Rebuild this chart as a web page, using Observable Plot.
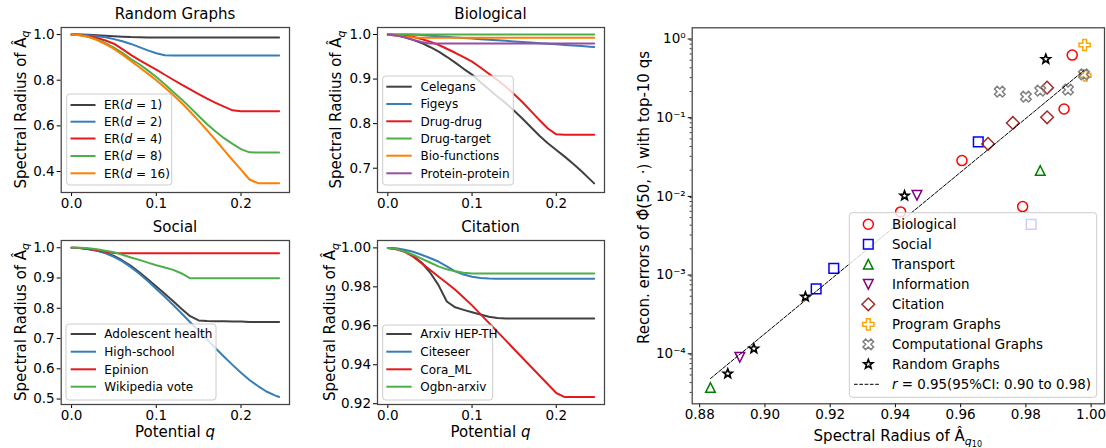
<!DOCTYPE html>
<html><head><meta charset="utf-8">
<script src="https://cdn.jsdelivr.net/npm/d3@7"></script>
<script src="https://cdn.jsdelivr.net/npm/@observablehq/plot@0.6"></script>
<style>
html,body{margin:0;padding:0;background:#fff;}
#root{position:relative;width:1106px;height:448px;overflow:hidden;font-family:"DejaVu Sans",sans-serif;}
#root > svg, #root > figure{position:absolute;margin:0;}
</style></head>
<body><div id="root"></div>
<script>
// ---------------- DATA ----------------
const q = [0,0.01,0.02,0.03,0.04,0.05,0.06,0.07,0.08,0.09,0.10,0.11,0.12,0.13,0.14,0.15,0.16,0.17,0.18,0.19,0.20,0.21,0.22,0.23,0.24,0.245];

// Random Graphs
const randomD = [1,2,4,8,16];
const er1  = [1,1,.999,.997,.995,.993,.991,.989,.988,.987,.987,.987,.987,.987,.987,.987,.987,.987,.987,.987,.987,.987,.987,.987,.987,.987];
const er2  = [1,.999,.997,.993,.988,.980,.971,.959,.945,.931,.918,.909,.908,.908,.908,.908,.908,.908,.908,.908,.908,.908,.908,.908,.908,.908];
const er4  = [1,.998,.993,.985,.974,.960,.936,.911,.888,.867,.846,.824,.802,.781,.760,.739,.719,.701,.684,.668,.664,.664,.664,.664,.664,.664];
const er8  = [1,.997,.990,.978,.962,.943,.920,.893,.870,.843,.814,.782,.748,.716,.680,.643,.607,.575,.546,.521,.498,.484,.483,.483,.483,.483];
const er16 = [1,.997,.989,.976,.958,.937,.912,.885,.857,.829,.800,.768,.735,.700,.662,.622,.580,.538,.494,.450,.408,.365,.349,.349,.349,.349];

// Biological
const bioNames = ["Celegans","Figeys","Drug-drug","Drug-target","Bio-functions","Protein-protein"];
const celegans   = [1,.998,.994,.988,.981,.972,.962,.950,.937,.923,.910,.893,.877,.861,.846,.829,.811,.792,.773,.756,.741,.726,.710,.693,.675,.666];
const figeys     = [1,1,1,1,.9987,.9974,.9961,.9948,.9935,.9922,.9909,.9896,.9883,.987,.9857,.9844,.9831,.9818,.9805,.9792,.9779,.9766,.9753,.974,.9727,.972];
const drugDrug   = [1,.999,.997,.995,.990,.984,.977,.968,.959,.949,.939,.926,.912,.898,.883,.866,.848,.828,.808,.789,.776,.775,.775,.775,.775,.775];
const drugTarget = [1,1,1,1,1,1,1,1,1,1,1,1,1,1,1,1,1,1,1,1,1,1,1,1,1,1];
const bioFunc    = [1,.998,.995,.993,.9925,.9925,.9925,.9925,.9925,.9925,.9925,.9925,.9925,.9925,.9925,.9925,.9925,.9925,.9925,.9925,.9925,.9925,.9925,.9925,.9925,.9925];
const protein    = [1,.998,.994,.988,.983,.980,.980,.980,.980,.980,.980,.980,.980,.980,.980,.980,.980,.980,.980,.980,.980,.980,.980,.980,.980,.980];

// Social
const socNames = ["Adolescent health","High-school","Epinion","Wikipedia vote"];
const adolescent = [1,.999,.996,.991,.984,.973,.958,.940,.919,.896,.872,.848,.823,.798,.774,.760,.758,.757,.757,.756,.756,.755,.755,.755,.755,.755];
const highSchool = [1,.999,.995,.990,.982,.970,.955,.936,.914,.890,.864,.838,.811,.783,.754,.726,.697,.668,.640,.613,.587,.563,.543,.525,.512,.507];
const epinion    = [1,.999,.996,.992,.987,.983,.982,.982,.982,.982,.982,.982,.982,.982,.982,.982,.982,.982,.982,.982,.982,.982,.982,.982,.982,.982];
const wikiVote   = [1,1,.998,.995,.990,.985,.977,.968,.960,.951,.942,.935,.927,.915,.899,.899,.899,.899,.899,.899,.899,.899,.899,.899,.899,.899];

// Citation
const citNames = ["Arxiv HEP-TH","Citeseer","Cora_ML","Ogbn-arxiv"];
const arxiv    = [1,.9995,.9982,.996,.9925,.9875,.981,.9725,.9695,.9682,.967,.9658,.9647,.964,.9638,.9638,.9638,.9638,.9638,.9638,.9638,.9638,.9638,.9638,.9638,.9638];
const citeseer = [1,.9998,.999,.998,.9965,.9948,.993,.9905,.988,.9863,.9852,.9846,.9843,.9842,.9842,.9842,.9842,.9842,.9842,.9842,.9842,.9842,.9842,.9842,.9842,.9842];
const coraML   = [1,.9993,.998,.9955,.9922,.9888,.9853,.982,.9785,.9745,.9705,.966,.9615,.957,.9525,.948,.9435,.939,.9345,.93,.9255,.9234,.9234,.9234,.9234,.9234];
const ogbn     = [1,.9995,.998,.9965,.9945,.9925,.9905,.989,.988,.9873,.9869,.9868,.9868,.9868,.9868,.9868,.9868,.9868,.9868,.9868,.9868,.9868,.9868,.9868,.9868,.9868];

// Scatter: spectral radius vs reconstruction error
const catNames = ["Biological","Social","Transport","Information","Citation","Program Graphs","Computational Graphs","Random Graphs"];
const scCat = ["Biological","Biological","Biological","Biological","Biological",
  "Social","Social","Social","Social",
  "Transport","Transport",
  "Information","Information",
  "Citation","Citation","Citation","Citation",
  "Program Graphs","Program Graphs",
  "Computational Graphs","Computational Graphs","Computational Graphs","Computational Graphs","Computational Graphs",
  "Random Graphs","Random Graphs","Random Graphs","Random Graphs","Random Graphs"];
const scX = [0.9942,0.9917,0.9604,0.979,0.9416,
  0.9654,0.9816,0.9211,0.9157,
  0.9844,0.8833,
  0.9466,0.8923,
  0.9865,0.9865,0.976,0.9684,
  0.998,0.9982,
  0.972,0.980,0.9844,0.9929,0.9978,
  0.9861,0.9428,0.9124,0.8966,0.8886];
const scY = [0.58,0.12,0.0265,0.0069,0.0059,
  0.0458,0.0041,0.00113,0.00062,
  0.0198,3.46e-5,
  0.0096,8.4e-5,
  0.224,0.094,0.0797,0.0432,
  0.78,0.32,
  0.199,0.172,0.205,0.211,0.33,
  0.516,0.00947,4.92e-4,1.08e-4,5.2e-5];
const fitX = [0.8833, 0.9977];
const fitY = [4.5e-5, 0.367];
const fitLabel = "0.95(95%CI: 0.90 to 0.98)";

// ---------------- STYLE ----------------
const lineColors = ["#404040","#377eb8","#e41a1c","#4daf4a","#ff7f00","#984ea3"];
const catColors = ["red","blue","green","purple","brown","orange","gray","black"];
const FONT = "DejaVu Sans";
const root = document.getElementById("root");

// custom matplotlib-like marker symbols
const R = s => Math.sqrt(s/Math.PI);
const symCircle = {draw(c,s){const r=R(s);c.moveTo(r,0);c.arc(0,0,r,0,2*Math.PI);}};
const symSquare = {draw(c,s){const r=R(s);c.rect(-r,-r,2*r,2*r);}};
const symTriUp = {draw(c,s){const r=R(s);c.moveTo(0,-r);c.lineTo(r,r);c.lineTo(-r,r);c.closePath();}};
const symTriDown = {draw(c,s){const r=R(s);c.moveTo(0,r);c.lineTo(r,-r);c.lineTo(-r,-r);c.closePath();}};
const symDiamond = {draw(c,s){const r=R(s);c.moveTo(0,-r);c.lineTo(r,0);c.lineTo(0,r);c.lineTo(-r,0);c.closePath();}};
function plusPts(r){const w=r/3;return [[-w,-r],[w,-r],[w,-w],[r,-w],[r,w],[w,w],[w,r],[-w,r],[-w,w],[-r,w],[-r,-w],[-w,-w]];}
const symPlus = {draw(c,s){const p=plusPts(R(s));p.forEach((v,i)=>i?c.lineTo(v[0],v[1]):c.moveTo(v[0],v[1]));c.closePath();}};
const symX = {draw(c,s){const p=plusPts(R(s));const k=Math.SQRT1_2;p.forEach((v,i)=>{const x=(v[0]-v[1])*k,y=(v[0]+v[1])*k;i?c.lineTo(x,y):c.moveTo(x,y);});c.closePath();}};
const symStar = {draw(c,s){const r=R(s),ri=r*0.42;for(let i=0;i<10;i++){const a=-Math.PI/2+i*Math.PI/5,rr=i%2?ri:r;const x=rr*Math.cos(a),y=rr*Math.sin(a);i?c.lineTo(x,y):c.moveTo(x,y);}c.closePath();}};
const catSymbols = [symCircle,symSquare,symTriUp,symTriDown,symDiamond,symPlus,symX,symStar];
const catR = [5,4.8,4.8,4.8,6.3,5.6,5.6,4.7];
const catSW = [1.5,1.5,1.5,1.5,1.5,1.5,1.5,1.7];

const xDomainLines = [-0.01225, 0.25725];

function linePanel({left, top, ml, mr, mt, mb, w, h, ydomain, yticks, yfmt, series}) {
  const marks = [
    Plot.axisX({ticks:[0,0.1,0.2], tickFormat:d3.format(".1f"), tickSize:4, tickPadding:2, label:null}),
    Plot.axisY({ticks:yticks, tickFormat:d3.format(yfmt), tickSize:4, tickPadding:2.5, label:null}),
  ];
  series.forEach((s,i) => {
    const data = q.map((qq,j)=>({q:qq, v:s[j]}));
    marks.push(Plot.line(data, {x:"q", y:"v", stroke:lineColors[i], strokeWidth:2}));
  });
  marks.push(Plot.frame({stroke:"#444", strokeWidth:1.25}));
  const p = Plot.plot({
    width:w, height:h, marginLeft:ml, marginRight:mr, marginTop:mt, marginBottom:mb,
    x:{domain:xDomainLines, label:null}, y:{domain:ydomain, label:null},
    style:{fontFamily:FONT, fontSize:"13.5px", color:"#000", background:"transparent", overflow:"visible"},
    marks
  });
  p.style.left = left+"px"; p.style.top = top+"px";
  root.appendChild(p);
}

linePanel({left:0, top:0, w:300, h:210, ml:60.7, mr:11, mt:27, mb:18,
  ydomain:[0.308,1.031], yticks:[0.4,0.6,0.8,1.0], yfmt:".1f", series:[er1,er2,er4,er8,er16]});
linePanel({left:316, top:0, w:300, h:210, ml:61, mr:12, mt:27, mb:18,
  ydomain:[0.6455,1.0157], yticks:[0.7,0.8,0.9,1.0], yfmt:".1f", series:[celegans,figeys,drugDrug,drugTarget,bioFunc,protein]});
linePanel({left:0, top:213, w:300, h:210, ml:60.7, mr:11, mt:27, mb:19,
  ydomain:[0.482,1.024], yticks:[0.5,0.6,0.7,0.8,0.9,1.0], yfmt:".1f", series:[adolescent,highSchool,epinion,wikiVote]});
linePanel({left:316, top:213, w:300, h:210, ml:61, mr:12, mt:27, mb:19,
  ydomain:[0.9196,1.0038], yticks:[0.92,0.94,0.96,0.98,1.00], yfmt:".2f", series:[arxiv,citeseer,coraML,ogbn]});

// scatter
const sup = {"0":"⁰","1":"¹","2":"²","3":"³","4":"⁴","5":"⁵","6":"⁶","-":"⁻"};
const fmtPow = d => "10" + String(Math.round(Math.log10(d))).split("").map(c=>sup[c]).join("");
const minorTicks = [];
for (let k=-5;k<=0;k++) for (let m=2;m<=9;m++) { const v=m*Math.pow(10,k); if (v>2.15e-5 && v<1.29) minorTicks.push(v); }
const scData = scX.map((x,i)=>({x, y:scY[i], cat:scCat[i]}));
const scMarks = [
  Plot.axisY({ticks:minorTicks, tickSize:2, tickFormat:()=>"", label:null, strokeWidth:0.8}),
  Plot.axisY({ticks:[1e-4,1e-3,1e-2,1e-1,1], tickSize:4, tickPadding:2.5, tickFormat:fmtPow, dy:2.5, label:null}),
  Plot.axisX({ticks:[0.88,0.90,0.92,0.94,0.96,0.98,1.00], tickFormat:d3.format(".2f"), tickSize:4, tickPadding:2, label:null}),
];
catNames.forEach((c,i) => {
  scMarks.push(Plot.dot(scData.filter(d=>d.cat===c), {x:"x", y:"y", symbol:catSymbols[i], r:catR[i], stroke:catColors[i], fill:"none", strokeWidth:catSW[i]}));
});
scMarks.push(Plot.line(fitX.map((x,i)=>({x, y:fitY[i]})), {x:"x", y:"y", stroke:"black", strokeWidth:1, strokeDasharray:"3.7,1.6"}));
scMarks.push(Plot.frame({stroke:"#444", strokeWidth:1.25}));
const sc = Plot.plot({
  width:486, height:448, marginLeft:71.7, marginRight:2, marginTop:27.3, marginBottom:44.7,
  x:{domain:[0.8777,1.0041], label:null}, y:{type:"log", domain:[2.15e-5,1.29], label:null},
  style:{fontFamily:FONT, fontSize:"13.5px", color:"#000", background:"transparent", overflow:"visible"},
  marks: scMarks
});
sc.style.left = "620px"; sc.style.top = "0px";
root.appendChild(sc);

// ---------------- OVERLAY: titles, labels, legends ----------------
const ov = d3.select(root).append("svg").attr("width",1106).attr("height",448)
  .style("left","0px").style("top","0px").style("font-family",FONT).style("overflow","visible");

function txt(x, y, parts, {size=15, anchor="middle", rotate=0, dy=null}={}) {
  const t = ov.append("text").attr("transform",`translate(${x},${y}) rotate(${rotate})`)
    .attr("text-anchor",anchor).attr("font-size",size).attr("fill","#000");
  if (dy) t.attr("dy", dy);
  parts.forEach(p => {
    const s = t.append("tspan").text(p.t);
    if (p.italic) s.attr("font-style","italic");
    if (p.dy != null) s.attr("dy", p.dy);
    if (p.size) s.attr("font-size", p.size);
  });
  return t;
}

// titles
txt(175, 18.7, [{t:"Random Graphs"}]);
txt(490.5, 18.7, [{t:"Biological"}]);
txt(175, 232, [{t:"Social"}]);
txt(490.5, 232, [{t:"Citation"}]);

// y labels of line panels
const yl = () => [{t:"Spectral Radius of Â"},{t:"q", italic:true, dy:3.5, size:11}];
txt(25.5, 109.5, yl(), {rotate:-90});
txt(341, 109.5, yl(), {rotate:-90});
txt(25.5, 322, yl(), {rotate:-90});
txt(335, 322, yl(), {rotate:-90});

// x labels
txt(175, 437, [{t:"Potential "},{t:"q", italic:true}]);
txt(490.5, 437, [{t:"Potential "},{t:"q", italic:true}]);

// scatter labels
txt(897.8, 441, [{t:"Spectral Radius of Â"},{t:"q", italic:true, dy:3.5, size:11},{t:"10", dy:2.5, size:8}]);
txt(648.7, 197.5, [{t:"Recon. errors of Φ̂(50, ·) with top-10 qs"}], {rotate:-90});

// legends
function box(x,y,w,h){
  ov.append("rect").attr("x",x).attr("y",y).attr("width",w).attr("height",h).attr("rx",3)
    .attr("fill","white").attr("fill-opacity",0.8).attr("stroke","#cccccc").attr("stroke-width",1);
}
function lineLegend(bx,by,bw,bh,x1,x2,tx,ys,labels){
  box(bx,by,bw,bh);
  labels.forEach((parts,i)=>{
    ov.append("line").attr("x1",x1).attr("x2",x2).attr("y1",ys[i]).attr("y2",ys[i])
      .attr("stroke",lineColors[i]).attr("stroke-width",2);
    txt(tx, ys[i], parts, {size:12, anchor:"start", dy:"0.35em"});
  });
}
lineLegend(66.7,94,105,91,70.5,95.5,104,[105,121.7,138.5,156,173.3],
  randomD.map(d=>[{t:"ER("},{t:"d",italic:true},{t:` = ${d})`}]));
lineLegend(382.7,76,130.6,109,386.3,411.7,420.5,[86.7,104,121.3,138.5,155.7,173.3],
  bioNames.map(n=>[{t:n}]));
lineLegend(66,324,150,76,70.7,96,104.3,[334,351.7,369.3,386.7],
  socNames.map(n=>[{t:n}]));
lineLegend(382.7,325,110,75,386.3,411.7,420.3,[334,351.7,369.3,386.7],
  citNames.map(n=>[{t:n}]));

// scatter legend
box(849.3,212.7,247.4,184.6);
catNames.forEach((c,i)=>{
  const y = 224.3 + 20*i;
  ov.append("path").attr("transform",`translate(868.3,${y})`)
    .attr("d", d3.symbol(catSymbols[i], Math.PI*catR[i]*catR[i])())
    .attr("fill","none").attr("stroke",catColors[i]).attr("stroke-width",catSW[i]);
  txt(892, y, [{t:c}], {size:13.4, anchor:"start", dy:"0.35em"});
});
ov.append("line").attr("x1",854).attr("x2",879.3).attr("y1",384.3).attr("y2",384.3)
  .attr("stroke","black").attr("stroke-width",1).attr("stroke-dasharray","3.7,1.6");
txt(892, 384.3, [{t:"r", italic:true},{t:" = " + fitLabel}], {size:13.4, anchor:"start", dy:"0.35em"});
</script>
</body></html>
